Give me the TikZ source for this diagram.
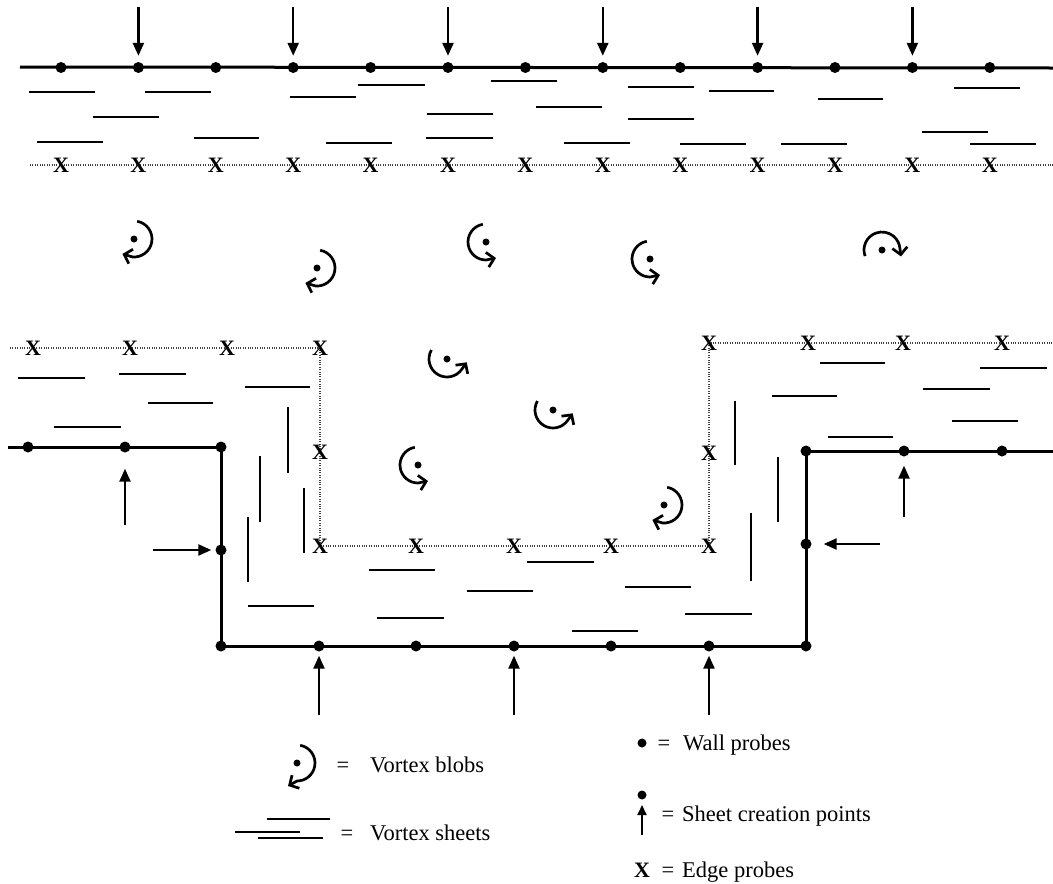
\documentclass[tikz,border=0pt]{standalone}
\usepackage{fontspec}
\setmainfont{Liberation Serif}
\usetikzlibrary{arrows.meta}
% a vortex blob: centre dot plus a curled arrow ending in a short straight run
% (#4,#5 = start/end angle with y pointing down, #6 = final straight step)
\newcommand\vblob[6]{%
  \node[bdot] (#1) at (#2,#3) {};
  \draw[blobarc] (#1.center) ++(#4:18) arc[start angle=#4, end angle=#5, radius=18] -- ++(#6);
}
\begin{document}
\begin{tikzpicture}[x=1pt,y=-1pt,
  wall/.style={line width=3pt},
  sheet/.style={line width=2.9pt},
  edgeline/.style={line width=1.2pt, dash pattern=on 1pt off 1.4pt, black!75},
  wp/.style={circle, fill=black, inner sep=0pt, minimum size=11pt},
  ep/.style={inner sep=0pt, font=\fontsize{22}{22}\selectfont\bfseries},
  creation/.style={line width=2.4pt, -{Triangle[length=13pt,width=11pt]}},
  bdot/.style={circle, fill=black, inner sep=0pt, minimum size=7pt},
  blobarc/.style={line width=2.7pt, line join=round, -{Straight Barb[length=7pt,width=15pt]}},
  lbl/.style={anchor=base west, inner sep=0pt, font=\fontsize{22.5}{24}\selectfont},
  eq/.style={anchor=base, inner sep=0pt, font=\fontsize{22.5}{24}\selectfont},
]
\useasboundingbox (0,0) rectangle (1053,884);

% ---------- upper wall ----------
\coordinate (tL) at (20,67);
\coordinate (tR) at (1053,68);
\draw[wall] (tL) -- (tR);
\foreach \i in {0,...,12} {
  \node[wp] (t\i) at ({61+77.4*\i},67.5) {};
}
\foreach \i in {1,3,...,11} {
  \coordinate (ta\i) at ({61+77.4*\i},7);
  \draw[creation, shorten >=6pt] (ta\i) -- (t\i);
}
% edge probes below the upper wall
\coordinate (teL) at (30,165);
\coordinate (teR) at (1053,165);
\draw[edgeline] (teL) -- (teR);
\foreach \i in {0,...,12} {
  \node[ep] (te\i) at ({61+77.4*\i},165) {X};
}
% sheets near the upper wall
\foreach \a/\b/\y in {29/95/92, 145/211/92, 93/159/117, 37/103/142, 194/259/138,
  290/356/97, 358/425/85, 326/392/143, 427/493/114, 426/493/138, 491/557/81,
  536/602/107, 628/694/87, 628/694/119, 564/630/143, 709/774/91, 680/746/144,
  818/883/99, 781/847/144, 954/1020/88, 922/988/132, 970/1036/144} {
  \draw[sheet] (\a,\y) -- (\b,\y);
}

% ---------- cavity wall ----------
\node[wp] (l0) at (28,447) {};
\node[wp] (l1) at (125,447) {};
\node[wp] (l2) at (221,447) {};
\node[wp] (l3) at (221,550) {};
\foreach \x [count=\k from 0] in {221,319,416,514,611,709,806} {
  \node[wp] (w\k) at (\x,646) {};
}
\node[wp] (r0) at (806,451) {};
\node[wp] (r1) at (904,451) {};
\node[wp] (r2) at (1002,451) {};
\node[wp] (r3) at (806,544) {};
\coordinate (lL) at (8,447);
\coordinate (rR) at (1053,451);
\draw[wall] (lL) -- (l2.center) -- (w0.center) -- (w6.center) -- (r0.center) -- (rR);

% sheet creation arrows on the cavity wall
\coordinate (la1) at (125,525);
\coordinate (la3) at (153,550);
\coordinate (ra1) at (904,517);
\coordinate (ra3) at (880,544);
\draw[creation, shorten >=16pt] (la1) -- (l1);
\draw[creation, shorten >=4pt] (la3) -- (l3);
\draw[creation, shorten >=9pt] (ra1) -- (r1);
\draw[creation, shorten >=12pt] (ra3) -- (r3);
\foreach \k in {1,3,5} {
  \coordinate (wa\k) at (w\k |- 0,715);
  \draw[creation, shorten >=4pt] (wa\k) -- (w\k);
}

% edge probes along the cavity
\coordinate (eL) at (10,348);
\coordinate (eR) at (1053,343);
\draw[edgeline] (eL) -- (320,348) -- (320,546) -- (709,546) -- (709,343) -- (eR);
\foreach \x/\y [count=\k] in {33/348, 130/348, 227/348, 320/348, 320/452, 320/546,
  416/546, 514/546, 611/546, 709/546, 709/453, 709/343, 808/343, 903/343, 1002/343} {
  \node[ep] (ce\k) at (\x,\y) {X};
}

% sheets in the cavity
\foreach \a/\b/\y in {18/85/378, 119/186/374, 148/213/403, 54/121/427, 245/310/387,
  820/885/363, 980/1047/368, 923/990/389, 772/837/396, 952/1018/421, 828/893/437,
  369/435/570, 527/594/562, 467/533/591, 625/691/587, 248/314/606, 377/444/618,
  572/638/631, 685/752/614} {
  \draw[sheet] (\a,\y) -- (\b,\y);
}
\foreach \x/\a/\b in {288/407/473, 260/456/522, 304/488/553, 248/517/582,
  735/401/465, 778/457/522, 751/513/581} {
  \draw[sheet] (\x,\a) -- (\x,\b);
}

% ---------- vortex blobs ----------
\vblob{v1}{134}{239}{-80}{95}{-10,-3}
\vblob{v2}{317}{268}{-80}{95}{-10,-3}
\vblob{v3}{486}{242}{-100}{-270}{10,-2}
\vblob{v4}{650}{259}{-100}{-270}{10,-2}
\vblob{v5}{882}{250}{-200}{-5}{1,8}
\vblob{v6}{447}{359}{-150}{-325}{5,-7}
\vblob{v7}{553}{410}{-150}{-325}{5,-7}
\vblob{v8}{418}{465}{-100}{-270}{10,-2}
\vblob{v9}{664}{505}{-80}{95}{-10,-3}

% ---------- legend ----------
\vblob{kb}{297}{763}{-80}{90}{-9,5}
\node[eq] (kbeq) at (343,772) {=};
\node[lbl] (kbt) at (370,772) {Vortex blobs};

\draw[sheet] (267,819) -- (330,819);
\draw[sheet] (235,832) -- (300,832);
\draw[sheet] (258,838) -- (323,838);
\node[eq] (kseq) at (347,840) {=};
\node[lbl] (kst) at (370,840) {Vortex sheets};

\node[wp, minimum size=9pt] (kw) at (642,743) {};
\node[eq] (kweq) at (664,750) {=};
\node[lbl] (kwt) at (683,750) {Wall probes};

\node[wp, minimum size=9pt] (kc) at (642,795) {};
\coordinate (kca) at (642,835);
\draw[creation, line width=2pt, -{Triangle[length=10pt,width=9pt]}] (kca) -- (642,805);
\node[eq] (kceq) at (668,821) {=};
\node[lbl] (kct) at (682,821) {Sheet creation points};

\node[ep, anchor=base, font=\fontsize{22}{22}\selectfont\bfseries] (kx) at (642,877) {X};
\node[eq] (kxeq) at (668,877) {=};
\node[lbl] (kxt) at (682,877) {Edge probes};
\end{tikzpicture}
\end{document}
